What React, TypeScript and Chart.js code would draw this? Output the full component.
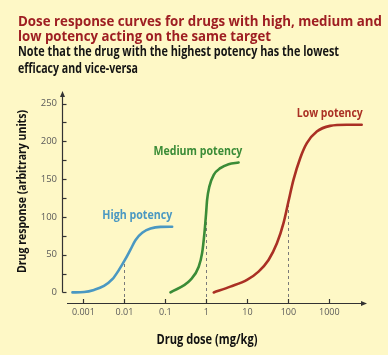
import React, { useEffect, useRef } from "react";
import { Chart, registerables } from "chart.js";

Chart.register(...registerables);

// ---------- data ----------
const highDose = [0.00054, 0.00104, 0.00181, 0.00317, 0.00508, 0.00735, 0.01028, 0.01415, 0.01874, 0.0272, 0.0434, 0.076, 0.146];
const highResp = [0, 0.5, 3.3, 8.6, 17.5, 29.8, 43, 57, 69.5, 79, 84.5, 86.8, 87];

const mediumDose = [0.133, 0.409, 0.65, 0.785, 0.893, 0.984, 1.04, 1.18, 1.51, 2.19, 3.48, 6.1];
const mediumResp = [0, 16.6, 34, 52, 78, 105, 122.5, 140, 155.6, 164.5, 169.8, 172];

const lowDose = [1.51, 3.84, 9.77, 18.7, 32.8, 52.5, 76, 100, 133, 194, 282, 493, 1040, 2650, 6140];
const lowResp = [0, 7.7, 16.6, 27.6, 43, 65, 91.7, 120, 149, 177.7, 197.6, 213, 220.5, 222, 222];

const xTickValues = [0.001, 0.01, 0.1, 1, 10, 100, 1000];
const xTickLabels = ["0.001", "0.01", "0.1", "1", "10", "100", "1000"];
const yTickValues = [0, 50, 100, 150, 200, 250];
const yTickLabels = ["0", "50", "100", "150", "200", "250"];
const yMinorTicks = [0, 25, 50, 75, 100, 125, 150, 175, 200, 225, 250];

const ec50Dose = [0.01, 1, 100];
const ec50Resp = [43, 103, 120];

const curveNames = ["High potency", "Medium potency", "Low potency"];
const labelDose = [0.0206, 0.62, 1023];
const labelResp = [96.8, 181.9, 231.8];

const titleLines = [
  "Dose response curves for drugs with high, medium and",
  "low potency acting on the same target",
];
const subtitleLines = [
  "Note that the drug with the highest potency has the lowest",
  "efficacy and vice-versa",
];
const xTitle = "Drug dose (mg/kg)";
const yTitle = "Drug response (arbitrary units)";

// ---------- styles ----------
const BG = "#FEF8C6";
const BLUE = "#4A98C2";
const GREEN = "#3B8C37";
const RED = "#AA3024";
const TITLE_RED = "#9E1E22";
const AXIS = "#333333";
const FAMILY = "'Open Sans', 'DejaVu Sans', sans-serif";

function fitText(
  ctx: CanvasRenderingContext2D,
  text: string,
  x: number,
  y: number,
  font: string,
  color: string,
  width: number,
  align: CanvasTextAlign,
  rotation = 0
) {
  ctx.save();
  ctx.font = font;
  ctx.fillStyle = color;
  ctx.textBaseline = "alphabetic";
  ctx.textAlign = align;
  const w = ctx.measureText(text).width;
  const sx = w > 0 ? width / w : 1;
  ctx.translate(x, y);
  if (rotation) ctx.rotate(rotation);
  ctx.scale(sx, 1);
  ctx.fillText(text, 0, 0);
  ctx.restore();
}

const decorPlugin = {
  id: "decor",
  beforeDatasetsDraw(chart: any) {
    const ctx: CanvasRenderingContext2D = chart.ctx;
    const xs = chart.scales.x;
    const ys = chart.scales.y;
    const axisY = chart.chartArea.bottom;
    ctx.save();
    ctx.strokeStyle = "#7a7a7a";
    ctx.lineWidth = 1;
    ctx.setLineDash([3, 3]);
    ec50Dose.forEach((d, i) => {
      const px = Math.round(xs.getPixelForValue(d)) + 0.5;
      ctx.beginPath();
      ctx.moveTo(px, axisY);
      ctx.lineTo(px, ys.getPixelForValue(ec50Resp[i]));
      ctx.stroke();
    });
    ctx.restore();
  },
  afterDraw(chart: any) {
    const ctx: CanvasRenderingContext2D = chart.ctx;
    const xs = chart.scales.x;
    const ys = chart.scales.y;
    const { left, right, top, bottom } = chart.chartArea;

    // titles
    fitText(ctx, titleLines[0], 18, 26, `bold 15px ${FAMILY}`, TITLE_RED, 364, "left");
    fitText(ctx, titleLines[1], 18, 41, `bold 15px ${FAMILY}`, TITLE_RED, 253, "left");
    fitText(ctx, subtitleLines[0], 18, 55.5, `bold 13.5px ${FAMILY}`, "#141414", 321, "left");
    fitText(ctx, subtitleLines[1], 18, 72.5, `bold 13.5px ${FAMILY}`, "#141414", 120, "left");

    ctx.save();
    ctx.strokeStyle = AXIS;
    ctx.fillStyle = AXIS;
    ctx.lineWidth = 1.2;
    // y axis
    const yAxisX = Math.round(left) + 0.5;
    const y0 = ys.getPixelForValue(0);
    ctx.beginPath();
    ctx.moveTo(yAxisX, y0);
    ctx.lineTo(yAxisX, top + 3);
    ctx.stroke();
    ctx.beginPath();
    ctx.moveTo(yAxisX, top - 2);
    ctx.lineTo(yAxisX - 2.5, top + 4);
    ctx.lineTo(yAxisX + 2.5, top + 4);
    ctx.closePath();
    ctx.fill();
    yMinorTicks.forEach((v) => {
      const py = Math.round(ys.getPixelForValue(v)) + 0.5;
      ctx.beginPath();
      ctx.moveTo(yAxisX, py);
      ctx.lineTo(yAxisX + 4, py);
      ctx.stroke();
    });
    // x axis
    const xAxisY = Math.round(bottom) + 0.5;
    ctx.beginPath();
    ctx.moveTo(left + 5, xAxisY);
    ctx.lineTo(right - 3, xAxisY);
    ctx.stroke();
    ctx.beginPath();
    ctx.moveTo(right + 2, xAxisY);
    ctx.lineTo(right - 4, xAxisY - 2.5);
    ctx.lineTo(right - 4, xAxisY + 2.5);
    ctx.closePath();
    ctx.fill();
    xTickValues.forEach((v) => {
      const px = Math.round(xs.getPixelForValue(v)) + 0.5;
      ctx.beginPath();
      ctx.moveTo(px, xAxisY);
      ctx.lineTo(px, xAxisY - 4.5);
      ctx.stroke();
    });
    ctx.restore();

    // axis titles
    fitText(ctx, xTitle, (left + right) / 2 - 6.5, 344, `bold 13.5px ${FAMILY}`, "#111", 101, "center");
    fitText(ctx, yTitle, 25.5, 191.5, `bold 12.5px ${FAMILY}`, "#111", 163, "center", -Math.PI / 2);

    // curve labels
    const labelColors = [BLUE, GREEN, RED];
    const labelWidths = [70, 89, 66];
    curveNames.forEach((name, i) => {
      fitText(
        ctx,
        name,
        xs.getPixelForValue(labelDose[i]),
        ys.getPixelForValue(labelResp[i]),
        `bold 12px ${FAMILY}`,
        labelColors[i],
        labelWidths[i],
        "center"
      );
    });
  },
};

export default function App() {
  const ref = useRef<HTMLCanvasElement | null>(null);
  useEffect(() => {
    if (!ref.current) return;
    const mk = (dose: number[], resp: number[]) => dose.map((d, i) => ({ x: d, y: resp[i] }));
    const lineStyle = {
      pointRadius: 0,
      borderWidth: 2.6,
      fill: false,
      cubicInterpolationMode: "monotone" as const,
      borderCapStyle: "round" as const,
    };
    const chart = new Chart(ref.current, {
      type: "line",
      data: {
        datasets: [
          { label: curveNames[0], data: mk(highDose, highResp), borderColor: BLUE, ...lineStyle },
          { label: curveNames[1], data: mk(mediumDose, mediumResp), borderColor: GREEN, ...lineStyle },
          { label: curveNames[2], data: mk(lowDose, lowResp), borderColor: RED, ...lineStyle },
        ],
      },
      options: {
        animation: false,
        responsive: false,
        maintainAspectRatio: false,
        events: [],
        layout: { padding: { top: 93, right: 23, bottom: 0, left: 0 } },
        plugins: { legend: { display: false }, tooltip: { enabled: false }, title: { display: false } },
        scales: {
          x: {
            type: "logarithmic",
            min: 3.13e-4,
            max: 7400,
            grid: { display: false, drawTicks: false },
            border: { display: false },
            afterBuildTicks: (s: any) => {
              s.ticks = xTickValues.map((v) => ({ value: v }));
            },
            afterFit: (s: any) => {
              s.height = 52;
            },
            ticks: {
              autoSkip: false,
              maxRotation: 0,
              padding: 4,
              color: "#5a5a5a",
              font: { family: FAMILY, size: 9 },
              callback: (_v: any, i: number) => xTickLabels[i],
            },
          },
          y: {
            type: "linear",
            min: -14,
            max: 264,
            grid: { display: false, drawTicks: false },
            border: { display: false },
            afterBuildTicks: (s: any) => {
              s.ticks = yTickValues.map((v) => ({ value: v }));
            },
            afterFit: (s: any) => {
              s.width = 62;
            },
            ticks: {
              autoSkip: false,
              padding: 5,
              color: "#5a5a5a",
              font: { family: FAMILY, size: 9.5 },
              callback: (_v: any, i: number) => yTickLabels[i],
            },
          },
        },
      },
      plugins: [decorPlugin],
    } as any);
    return () => chart.destroy();
  }, []);

  return (
    <div
      style={{
        position: "fixed",
        left: 0,
        top: 0,
        width: 388,
        height: 355,
        background: BG,
      }}
    >
      <canvas ref={ref} width={388} height={355} style={{ display: "block", width: 388, height: 355 }} />
    </div>
  );
}
